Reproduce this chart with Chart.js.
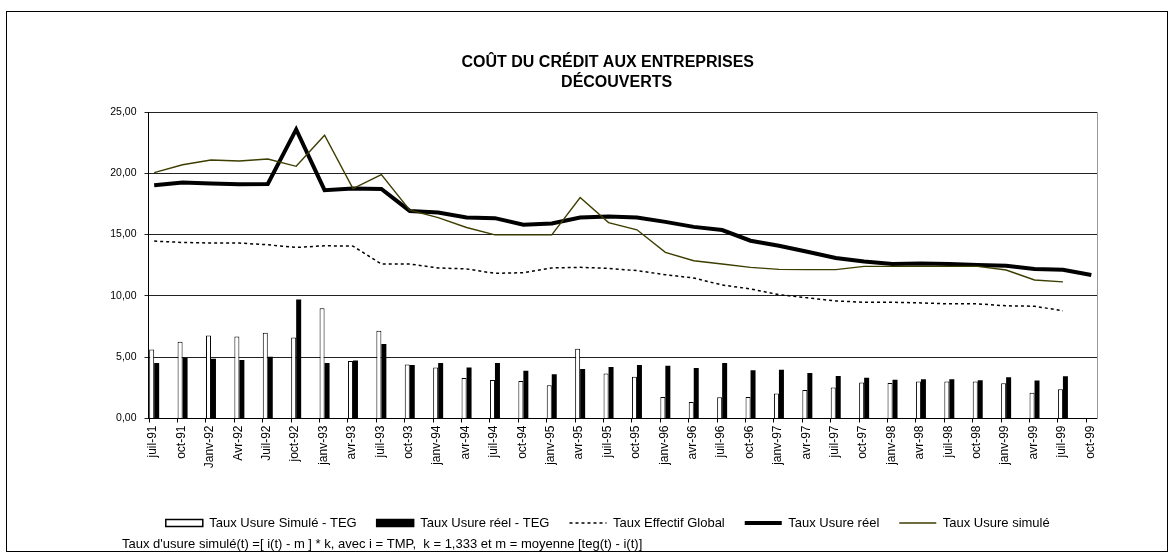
<!DOCTYPE html>
<html lang="fr">
<head>
<meta charset="utf-8">
<title>Coût du crédit aux entreprises - découverts</title>
<script src="https://cdn.jsdelivr.net/npm/chart.js@4.4.1/dist/chart.umd.min.js"></script>
<style>
    html, body { margin: 0; padding: 0; background: #fff; }
    #wrap { position: relative; width: 1174px; height: 556px; }
</style>
</head>
<body>
<div id="wrap"><canvas id="usure"></canvas></div>
<script>
    // Trimestres (axe des x)
    const dates = ['juil-91', 'oct-91', 'Janv-92', 'Avr-92', 'Juil-92', 'joct-92', 'janv-93', 'avr-93',
        'juil-93', 'oct-93', 'janv-94', 'avr-94', 'juil-94', 'oct-94', 'janv-95', 'avr-95', 'juil-95',
        'oct-95', 'janv-96', 'avr-96', 'juil-96', 'oct-96', 'janv-97', 'avr-97', 'juil-97', 'oct-97',
        'janv-98', 'avr-98', 'juil-98', 'oct-98', 'janv-99', 'avr-99', 'juil-99', 'oct-99'];

    // Barres
    const simuleMoinsTeg = [5.63, 6.26, 6.77, 6.69, 6.99, 6.61, 8.99, 4.68, 7.15, 4.41, 4.15, 3.30, 3.14,
        3.06, 2.71, 5.69, 3.68, 3.41, 1.76, 1.35, 1.73, 1.76, 2.03, 2.33, 2.52, 2.93, 2.90, 3.01, 3.01,
        3.01, 2.87, 2.11, 2.38];
    const reelMoinsTeg = [4.52, 4.96, 4.88, 4.77, 5.04, 9.70, 4.52, 4.74, 6.07, 4.36, 4.52, 4.15, 4.52,
        3.90, 3.60, 4.04, 4.20, 4.36, 4.31, 4.12, 4.52, 3.93, 3.98, 3.71, 3.47, 3.33, 3.17, 3.20, 3.20,
        3.11, 3.36, 3.09, 3.44];

    // Courbes
    const teg = [14.47, 14.36, 14.31, 14.31, 14.17, 13.95, 14.09, 14.06, 12.60, 12.60, 12.28, 12.20,
        11.84, 11.89, 12.28, 12.33, 12.25, 12.06, 11.73, 11.46, 10.89, 10.57, 10.10, 9.84, 9.59, 9.48,
        9.48, 9.43, 9.35, 9.35, 9.19, 9.16, 8.78];
    const usureReel = [19.02, 19.24, 19.16, 19.10, 19.13, 23.58, 18.62, 18.75, 18.72, 16.93, 16.80,
        16.39, 16.34, 15.80, 15.90, 16.39, 16.47, 16.39, 16.04, 15.63, 15.37, 14.50, 14.09, 13.60, 13.09,
        12.81, 12.60, 12.65, 12.60, 12.52, 12.46, 12.20, 12.14, 11.71];
    const usureSimule = [20.05, 20.70, 21.08, 21.00, 21.16, 20.57, 23.11, 18.75, 19.89, 16.99, 16.39,
        15.58, 14.98, 14.98, 14.98, 18.02, 15.98, 15.39, 13.55, 12.87, 12.60, 12.33, 12.16, 12.14, 12.14,
        12.41, 12.41, 12.41, 12.41, 12.41, 12.11, 11.30, 11.14];

    // Axe des y
    const yTicks = [0, 5, 10, 15, 20, 25];

    const titre = ['COÛT DU CRÉDIT AUX ENTREPRISES', '    DÉCOUVERTS'];
    const note = "Taux d'usure simulé(t) =[ i(t) - m ] * k, avec i = TMP,  k = 1,333 et m = moyenne [teg(t) - i(t)]";

    const police = "'Liberation Sans', Arial, sans-serif";
    Chart.defaults.font.family = police;
    Chart.defaults.color = '#000';

    // points {x: indice du trimestre, y: valeur}
    function points(arr) {
        return arr.map(function (v, i) { return { x: i, y: v }; });
    }

    // Cadre et note de bas de page
    const cadre = {
        id: 'cadre',
        beforeDraw: function (chart) {
            const c = chart.ctx;
            c.save();
            c.fillStyle = '#fff';
            c.fillRect(0, 0, chart.width, chart.height);
            c.strokeStyle = '#000';
            c.lineWidth = 1;
            c.strokeRect(6.5, 11.5, 1161, 540);
            c.restore();
        },
        afterDraw: function (chart) {
            const c = chart.ctx;
            c.save();
            c.fillStyle = '#000';
            c.font = '13px ' + police;
            c.textBaseline = 'middle';
            c.fillText(note, 122, 544);
            c.restore();
        }
    };

    const ctx = document.getElementById('usure');
    const myChart = new Chart(ctx, {
        type: 'bar',
        data: {
            datasets: [{
                label: 'Taux Usure Simulé - TEG',
                data: points(simuleMoinsTeg),
                backgroundColor: '#fff',
                borderColor: '#000',
                borderWidth: 1,
                categoryPercentage: 0.352,
                barPercentage: 1,
                order: 3
            }, {
                label: 'Taux Usure réel - TEG',
                data: points(reelMoinsTeg),
                backgroundColor: '#000',
                borderColor: '#000',
                borderWidth: 0,
                categoryPercentage: 0.352,
                barPercentage: 1,
                order: 4
            }, {
                type: 'line',
                label: 'Taux Effectif Global',
                data: points(teg),
                borderColor: '#000',
                backgroundColor: '#000',
                borderWidth: 1.5,
                borderDash: [3, 3],
                pointRadius: 0,
                tension: 0,
                order: 2
            }, {
                type: 'line',
                label: 'Taux Usure réel',
                data: points(usureReel),
                borderColor: '#000',
                backgroundColor: '#000',
                borderWidth: 4,
                pointRadius: 0,
                tension: 0,
                order: 1
            }, {
                type: 'line',
                label: 'Taux Usure simulé',
                data: points(usureSimule),
                borderColor: '#3d3d00',
                backgroundColor: '#3d3d00',
                borderWidth: 1.4,
                pointRadius: 0,
                tension: 0,
                order: 0
            }]
        },
        options: {
            responsive: true,
            maintainAspectRatio: false,
            animation: false,
            layout: { padding: { left: 109.5, right: 68, top: 0, bottom: 16.5 } },
            scales: {
                x: {
                    type: 'linear',
                    min: -0.2,
                    max: 33.2,
                    offset: false,
                    afterBuildTicks: function (s) {
                        s.ticks = dates.map(function (d, i) { return { value: i - 0.176 }; });
                    },
                    afterFit: function (s) { s.height = 78; },
                    ticks: {
                        autoSkip: false,
                        minRotation: 90,
                        maxRotation: 90,
                        labelOffset: 4,
                        padding: 3,
                        font: { size: 12 },
                        callback: function (v, i) { return dates[i]; }
                    },
                    grid: { offset: false, drawOnChartArea: false, tickLength: 4, color: '#000' },
                    border: { color: '#000' }
                },
                y: {
                    min: 0,
                    max: 25,
                    afterBuildTicks: function (s) {
                        s.ticks = yTicks.map(function (v) { return { value: v }; });
                    },
                    afterFit: function (s) { s.width = 39; },
                    ticks: {
                        padding: 8,
                        font: { size: 10.5 },
                        callback: function (v) { return v.toFixed(2).replace('.', ','); }
                    },
                    grid: { color: '#222', tickLength: 4 },
                    border: { color: '#000' }
                },
                // bord droit gris du graphique
                y2: {
                    position: 'right',
                    min: 0,
                    max: 25,
                    afterFit: function (s) { s.width = 9; },
                    ticks: { display: false },
                    grid: { display: false },
                    border: { color: '#999' }
                }
            },
            plugins: {
                tooltip: { enabled: false },
                title: {
                    display: true,
                    text: titre,
                    color: '#000',
                    font: { size: 16, weight: 'bold', lineHeight: 1.25 },
                    padding: { top: 53, bottom: 19 }
                },
                legend: {
                    position: 'bottom',
                    labels: {
                        usePointStyle: true,
                        pointStyleWidth: 37,
                        boxHeight: 7,
                        padding: 20,
                        color: '#000',
                        font: { size: 13 },
                        sort: function (a, b) { return a.datasetIndex - b.datasetIndex; },
                        generateLabels: function (chart) {
                            const items = Chart.defaults.plugins.legend.labels.generateLabels(chart);
                            items.forEach(function (item) {
                                const ds = chart.data.datasets[item.datasetIndex];
                                if (ds.type === 'line') {
                                    item.pointStyle = 'line';
                                    item.lineWidth = ds.borderWidth;
                                    item.lineDash = ds.borderDash || [];
                                } else {
                                    item.pointStyle = 'rect';
                                    item.lineWidth = 1.5;
                                    item.lineDash = [];
                                }
                                item.strokeStyle = ds.borderColor;
                                item.fillStyle = ds.backgroundColor;
                            });
                            return items;
                        }
                    }
                }
            }
        },
        plugins: [cadre]
    });
</script>
</body>
</html>
